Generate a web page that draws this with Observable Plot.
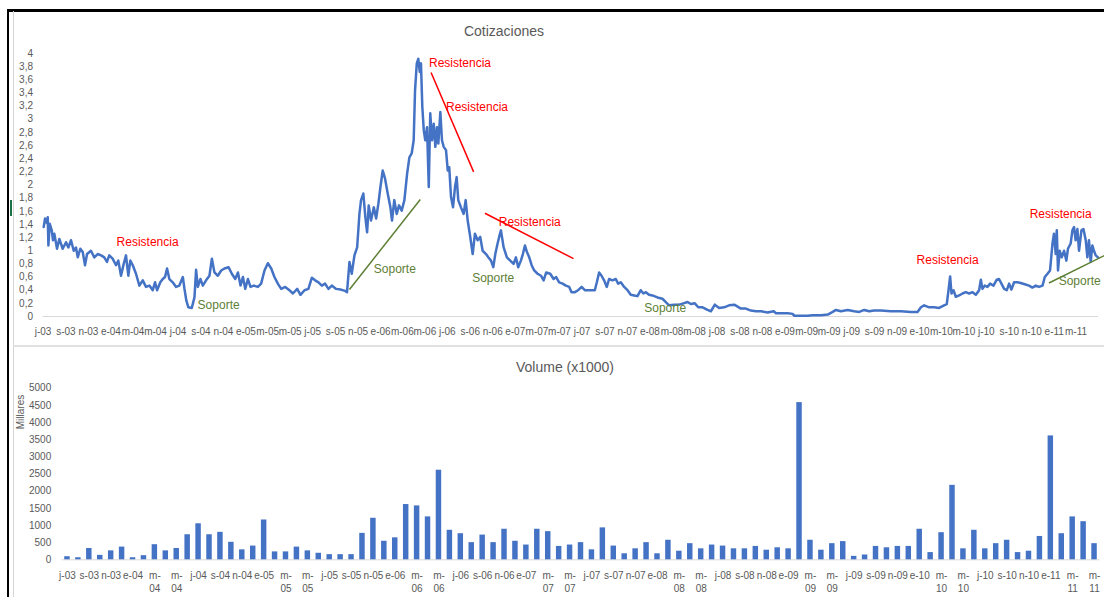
<!DOCTYPE html>
<html><head><meta charset="utf-8">
<script src="https://cdn.jsdelivr.net/npm/d3@7"></script>
<script src="https://cdn.jsdelivr.net/npm/@observablehq/plot@0.6"></script>
<style>
html,body{margin:0;padding:0;background:#fff;}
#wrap{position:relative;width:1104px;height:597px;overflow:hidden;background:#fff;font-family:"Liberation Sans",Arial,sans-serif;}
.abs{position:absolute;}
.title{position:absolute;font-size:14px;color:#595959;line-height:16px;white-space:nowrap;transform:translateX(-50%);}
#topChart,#bottomChart{position:absolute;left:0;}
#topChart{top:0;} #bottomChart{top:340px;}
</style></head><body>
<div id="wrap">
  <div id="topChart"></div>
  <div id="bottomChart"></div>
  <div class="abs" style="left:7px;top:9px;width:1097px;height:2.5px;background:#000;"></div>
  <div class="abs" style="left:7px;top:9px;width:2px;height:588px;background:#000;"></div>
  <div class="abs" style="left:12.5px;top:11px;width:1px;height:586px;background:#d4d4d4;"></div>
  <div class="abs" style="left:13px;top:344.5px;width:1091px;height:2px;background:#e0e0e0;"></div>
  <div class="abs" style="left:10px;top:200px;width:2px;height:16px;background:#1e7145;"></div>
  <div class="title" style="left:504px;top:22.5px;">Cotizaciones</div>
  <div class="title" style="left:565px;top:358.5px;">Volume (x1000)</div>
  <div class="abs" style="left:20px;top:411.5px;font-size:10px;color:#595959;white-space:nowrap;transform:translate(-50%,-50%) rotate(-90deg);">Millares</div>
</div>
<script>
// ---------- DATA ----------
const tickLabels = ["j-03","s-03","n-03","e-04","m-04","m-04","j-04","s-04","n-04","e-05","m-05","m-05","j-05","s-05","n-05","e-06","m-06","m-06","j-06","s-06","n-06","e-07","m-07","m-07","j-07","s-07","n-07","e-08","m-08","m-08","j-08","s-08","n-08","e-09","m-09","m-09","j-09","s-09","n-09","e-10","m-10","m-10","j-10","s-10","n-10","e-11","m-11","m-11"];

const priceTicks = [0,0.2,0.4,0.6,0.8,1,1.2,1.4,1.6,1.8,2,2.2,2.4,2.6,2.8,3,3.2,3.4,3.6,3.8,4];
const volumeTicks = [0,500,1000,1500,2000,2500,3000,3500,4000,4500,5000];

// price series: time as decimal year, value
const priceYears = [
2003.501,2003.511,2003.526,2003.531,2003.536,2003.546,2003.561,2003.570,2003.580,2003.600,
2003.617,2003.642,2003.667,2003.684,2003.704,2003.724,2003.741,2003.754,2003.773,2003.791,
2003.808,2003.823,2003.852,2003.877,2003.902,2003.927,2003.951,2003.971,2003.988,2004.013,
2004.038,2004.055,2004.075,2004.095,2004.112,2004.129,2004.144,2004.162,2004.186,2004.211,
2004.236,2004.260,2004.285,2004.310,2004.327,2004.342,2004.366,2004.384,2004.401,2004.416,
2004.433,2004.458,2004.483,2004.507,2004.533,2004.545,2004.559,2004.574,2004.599,2004.619,
2004.631,2004.644,2004.663,2004.681,2004.705,2004.730,2004.748,2004.767,2004.792,2004.817,
2004.841,2004.871,2004.896,2004.921,2004.941,2004.960,2004.978,2004.995,2005.015,2005.034,
2005.059,2005.089,2005.113,2005.138,2005.163,2005.188,2005.212,2005.237,2005.262,2005.292,
2005.323,2005.349,2005.381,2005.405,2005.435,2005.464,2005.490,2005.514,2005.539,2005.564,
2005.588,2005.613,2005.638,2005.670,2005.702,2005.737,2005.751,2005.769,2005.786,2005.806,
2005.826,2005.843,2005.855,2005.872,2005.887,2005.900,2005.912,2005.929,2005.950,2005.967,
2005.984,2005.999,2006.016,2006.033,2006.053,2006.073,2006.085,2006.102,2006.120,2006.137,
2006.157,2006.177,2006.197,2006.214,2006.231,2006.246,2006.256,2006.269,2006.280,2006.291,
2006.300,2006.310,2006.321,2006.332,2006.345,2006.358,2006.369,2006.382,2006.395,2006.407,
2006.419,2006.429,2006.444,2006.456,2006.469,2006.486,2006.499,2006.510,2006.523,2006.538,
2006.553,2006.565,2006.577,2006.597,2006.617,2006.632,2006.647,2006.666,2006.684,2006.701,
2006.721,2006.740,2006.758,2006.783,2006.800,2006.820,2006.837,2006.852,2006.869,2006.887,
2006.894,2006.914,2006.938,2006.963,2006.988,2007.005,2007.022,2007.042,2007.057,2007.072,
2007.087,2007.104,2007.122,2007.141,2007.166,2007.191,2007.211,2007.230,2007.260,2007.285,
2007.304,2007.326,2007.352,2007.376,2007.401,2007.418,2007.443,2007.467,2007.493,2007.517,
2007.542,2007.567,2007.591,2007.606,2007.623,2007.641,2007.660,2007.680,2007.697,2007.722,
2007.747,2007.764,2007.784,2007.809,2007.834,2007.858,2007.883,2007.908,2007.932,2007.952,
2007.970,2007.994,2008.019,2008.056,2008.093,2008.118,2008.142,2008.180,2008.217,2008.249,
2008.279,2008.303,2008.333,2008.358,2008.390,2008.427,2008.452,2008.481,2008.513,2008.550,
2008.587,2008.625,2008.650,2008.674,2008.711,2008.748,2008.786,2008.823,2008.872,2008.917,
2008.934,2008.971,2009.021,2009.058,2009.070,2009.119,2009.169,2009.206,2009.268,2009.318,
2009.355,2009.379,2009.416,2009.466,2009.515,2009.552,2009.589,2009.626,2009.663,2009.713,
2009.787,2009.861,2009.935,2009.985,2010.010,2010.034,2010.071,2010.108,2010.145,2010.182,
2010.202,2010.215,2010.227,2010.237,2010.252,2010.269,2010.294,2010.319,2010.343,2010.368,
2010.393,2010.418,2010.442,2010.455,2010.467,2010.484,2010.504,2010.524,2010.549,2010.573,
2010.590,2010.608,2010.628,2010.648,2010.665,2010.682,2010.702,2010.727,2010.751,2010.781,
2010.813,2010.838,2010.863,2010.887,2010.913,2010.930,2010.950,2010.969,2010.987,2010.998,
2011.011,2011.019,2011.028,2011.041,2011.056,2011.073,2011.090,2011.102,2011.122,2011.135,
2011.147,2011.159,2011.172,2011.184,2011.202,2011.217,2011.234,2011.246,2011.258,2011.271,
2011.283,2011.295,2011.308,2011.325];

const priceValues = [
1.36,1.49,1.42,1.51,1.08,1.41,1.31,1.16,1.26,1.03,
1.18,1.03,1.13,1.05,1.16,1.00,1.05,0.90,1.03,0.98,
0.78,0.95,1.00,0.90,0.95,0.93,0.90,0.83,0.93,0.88,
0.78,0.85,0.62,0.80,0.93,0.62,0.85,0.78,0.65,0.47,
0.55,0.45,0.47,0.40,0.52,0.40,0.52,0.57,0.60,0.73,
0.57,0.52,0.45,0.47,0.60,0.42,0.24,0.14,0.13,0.29,
0.71,0.45,0.57,0.47,0.55,0.62,0.88,0.67,0.62,0.70,
0.73,0.75,0.65,0.57,0.67,0.47,0.60,0.42,0.57,0.45,
0.47,0.45,0.50,0.70,0.81,0.73,0.60,0.50,0.42,0.45,
0.40,0.35,0.42,0.33,0.40,0.42,0.59,0.55,0.52,0.47,
0.50,0.42,0.47,0.42,0.41,0.39,0.37,0.83,0.65,0.93,
1.05,1.56,1.77,1.87,1.51,1.28,1.69,1.46,1.66,1.49,
1.72,1.97,2.22,2.10,1.87,1.66,1.46,1.77,1.56,1.69,
1.61,1.77,2.17,2.42,2.48,2.68,3.44,3.85,3.92,3.72,
3.85,3.19,2.83,2.68,2.88,1.97,3.09,2.68,2.93,2.58,
2.88,2.63,3.11,2.68,2.58,2.53,2.22,2.27,1.82,1.66,
1.97,2.12,1.77,1.66,1.56,1.77,1.46,1.21,0.95,1.26,
1.16,1.21,1.00,0.95,0.90,0.85,0.75,0.95,1.11,1.26,
1.31,1.05,0.90,0.85,0.80,0.90,0.75,0.85,0.95,1.08,
0.98,0.90,0.78,0.70,0.65,0.62,0.55,0.67,0.65,0.57,
0.60,0.52,0.50,0.47,0.45,0.37,0.37,0.40,0.45,0.40,
0.40,0.40,0.40,0.52,0.67,0.62,0.55,0.45,0.57,0.55,
0.57,0.50,0.52,0.45,0.40,0.33,0.32,0.31,0.40,0.35,
0.37,0.33,0.32,0.29,0.27,0.22,0.17,0.18,0.18,0.20,
0.22,0.19,0.20,0.14,0.14,0.10,0.08,0.18,0.13,0.14,
0.17,0.18,0.15,0.12,0.12,0.09,0.08,0.08,0.06,0.08,
0.05,0.05,0.05,0.04,0.01,0.01,0.01,0.02,0.02,0.03,
0.07,0.10,0.08,0.10,0.08,0.07,0.10,0.08,0.09,0.09,
0.08,0.08,0.07,0.07,0.14,0.17,0.14,0.14,0.13,0.17,
0.19,0.40,0.61,0.35,0.40,0.30,0.32,0.35,0.37,0.35,
0.37,0.33,0.40,0.56,0.42,0.47,0.45,0.50,0.47,0.56,
0.57,0.50,0.42,0.40,0.50,0.41,0.52,0.52,0.51,0.49,
0.47,0.44,0.47,0.45,0.47,0.60,0.65,0.70,1.11,1.26,
0.95,1.31,0.70,1.00,0.90,1.00,0.85,1.03,1.11,1.31,
1.36,1.16,1.33,1.00,1.31,1.33,1.16,0.90,1.16,0.83,
1.08,1.00,0.93,0.90];

// monthly volume (thousands), Jul 2003 .. May 2011
const volumeValues = [
90,60,330,130,260,370,60,120,440,260,
330,730,1050,730,800,510,290,400,1160,230,
230,370,260,190,150,150,150,770,1210,540,
640,1610,1570,1250,2610,860,760,500,720,500,
890,540,430,890,820,390,430,500,290,930,
400,175,320,500,175,570,250,470,320,430,
400,320,320,390,280,350,320,4580,570,280,
470,530,100,140,390,350,390,390,890,210,
790,2170,320,860,320,470,570,210,250,680,
3610,760,1250,1110,470];

// annotation trend lines
const trendKind = ["Resistencia","Resistencia","Soporte","Soporte"];
const trendStartYear = [2006.375, 2006.775, 2005.769, 2010.961];
const trendStartValue = [3.71, 1.57, 0.41, 0.51];
const trendEndYear = [2006.691, 2007.433, 2006.295, 2011.375];
const trendEndValue = [2.20, 0.88, 1.78, 0.93];

// annotation labels
const noteText = ["Resistencia","Soporte","Soporte","Resistencia","Resistencia","Resistencia","Soporte","Soporte","Resistencia","Resistencia","Soporte"];
const noteYear = [2004.272, 2004.798, 2006.106, 2006.590, 2006.716, 2007.108, 2006.836, 2008.114, 2010.208, 2011.048, 2011.189];
const noteValue = [1.13, 0.17, 0.715, 3.86, 3.19, 1.435, 0.59, 0.12, 0.85, 1.56, 0.53];

// ---------- BUILD ----------
const RED = "#ff0000", GREEN = "#5e8035", BLUE = "#4472c4", AXIS = "#595959";
const toDate = yr => { const y = Math.floor(yr); const s = Date.UTC(y,0,1), e = Date.UTC(y+1,0,1); return new Date(s + (yr - y) * (e - s)); };
const kindColor = k => k === "Soporte" ? GREEN : RED;

const priceData = priceYears.map((t, i) => ({date: toDate(t), value: priceValues[i]}));
const trends = trendKind.map((k, i) => ({kind: k, x1: toDate(trendStartYear[i]), y1: trendStartValue[i], x2: toDate(trendEndYear[i]), y2: trendEndValue[i]}));
const notes = noteText.map((t, i) => ({text: t, date: toDate(noteYear[i]), value: noteValue[i]}));

const tickDates = tickLabels.map((_, k) => new Date(Date.UTC(2003, 6 + 2 * k, 1)));
const topTickDates = tickDates.slice(0, 47);
const labelMap = new Map(tickDates.map((d, i) => [+d, tickLabels[i]]));
const fmtComma = d => String(Math.round(d * 10) / 10).replace(".", ",");

const font = {fontFamily: "'Liberation Sans', Arial, sans-serif", fontSize: "10px", color: AXIS, background: "transparent", overflow: "visible"};

const priceChart = Plot.plot({
  width: 1104, height: 340,
  marginTop: 53, marginBottom: 24, marginLeft: 42.5, marginRight: 6,
  style: font,
  x: {type: "utc", domain: [new Date(Date.UTC(2003,6,1)), new Date(Date.UTC(2011,4,1))], axis: null},
  y: {domain: [0, 4], axis: null},
  marks: [
    Plot.ruleY([0], {stroke: "#d9d9d9", strokeWidth: 1}),
    Plot.axisY({ticks: priceTicks, tickSize: 0, tickPadding: 10, tickFormat: fmtComma, label: null}),
    Plot.axisX({ticks: topTickDates, tickSize: 0, tickPadding: 11.5, tickFormat: d => labelMap.get(+d), label: null}),
    Plot.line(priceData, {x: "date", y: "value", stroke: BLUE, strokeWidth: 2.5, strokeLinejoin: "round"}),
    Plot.link(trends, {x1: "x1", y1: "y1", x2: "x2", y2: "y2", stroke: d => kindColor(d.kind), strokeWidth: 1.5}),
    Plot.text(notes, {x: "date", y: "value", text: "text", fill: d => kindColor(d.text), fontSize: 12, textAnchor: "middle"})
  ]
});
document.getElementById("topChart").appendChild(priceChart);

const monthKeys = volumeValues.map((_, k) => d3.utcFormat("%Y-%m")(new Date(Date.UTC(2003, 6 + k, 1))));
const volData = volumeValues.map((v, i) => ({month: monthKeys[i], volume: v}));
const volLabels = tickLabels.map((l, i) => ({month: monthKeys[2 * i], label: l.startsWith("m-") ? l.replace("m-", "m-\n") : l}));

const volumeChart = Plot.plot({
  width: 1104, height: 257,
  marginTop: 47.7, marginBottom: 37.7, marginLeft: 61.5, marginRight: 4.5,
  style: font,
  x: {type: "band", domain: monthKeys, paddingInner: 0.5, paddingOuter: 0.25, axis: null},
  y: {domain: [0, 5000], axis: null},
  marks: [
    Plot.ruleY([0], {stroke: "#d9d9d9", strokeWidth: 1}),
    Plot.barY(volData, {x: "month", y: "volume", fill: BLUE}),
    Plot.axisY({ticks: volumeTicks, tickSize: 0, tickPadding: 10.8, tickFormat: d => String(d), label: null}),
    Plot.text(volLabels, {x: "month", text: "label", frameAnchor: "bottom", dy: 10, lineAnchor: "top", lineHeight: 1.3, fontSize: 10, fill: AXIS})
  ]
});
document.getElementById("bottomChart").appendChild(volumeChart);
</script>
</body></html>
